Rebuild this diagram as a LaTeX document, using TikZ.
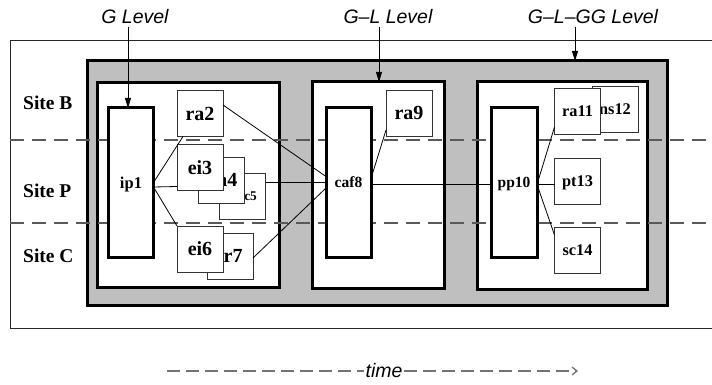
\documentclass[tikz,border=0pt]{standalone}
\usepackage{fontspec}
\setmainfont{Liberation Serif}
\newfontfamily\hvfont{Liberation Sans}
\usetikzlibrary{arrows.meta,calc}
\begin{document}
\begin{tikzpicture}[x=1pt,y=-1pt,
  frame/.style={draw,line width=3pt,fill=white,inner sep=0pt,outer sep=0pt},
  tallbox/.style={draw,line width=3pt,fill=white,inner sep=0pt,outer sep=0pt,minimum width=45pt,minimum height=149pt,text depth=0pt,font=\fontsize{16.5}{19}\selectfont\bfseries},
  smallbox/.style={draw=black!80,line width=0.9pt,fill=white,inner sep=0pt,outer sep=0pt,minimum width=46pt,minimum height=46pt,text depth=0pt,font=\fontsize{20}{24}\selectfont\bfseries},
  midbox/.style={smallbox,font=\fontsize{16.3}{19}\selectfont\bfseries},
  lvl/.style={font=\hvfont\itshape\fontsize{19.5}{22}\selectfont,inner sep=1pt,text depth=0pt},
  site/.style={font=\fontsize{19.5}{22}\selectfont\bfseries,anchor=base west,inner sep=0pt},
  conn/.style={line width=0.8pt},
  lvlarrow/.style={line width=0.8pt,-{Triangle[length=10pt,width=6pt]}},
  sitedash/.style={draw=black!65,line width=1.2pt,dash pattern=on 14pt off 8pt},
  timedash/.style={draw=black!55,line width=1.3pt,dash pattern=on 13pt off 6pt}
]
\useasboundingbox (0,0) rectangle (712,385);
% outer frame (open to the right)
\draw[line width=0.8pt,draw=black!85] (712,40) -- (10,40) -- (10,328) -- (712,328);
% gray group and level frames
\node[frame,fill=black!25,minimum width=580pt,minimum height=244pt] (grp) at (377,183) {};
\node[frame,minimum width=182pt,minimum height=204pt] (b1) at (188,185) {};
\node[frame,minimum width=132pt,minimum height=206pt] (b2) at (378,185) {};
\node[frame,minimum width=170pt,minimum height=207pt] (b3) at (562,185.5) {};
% site separators
\coordinate (dl1) at (10,140); \coordinate (dr1) at (712,140);
\coordinate (dl2) at (10,223); \coordinate (dr2) at (712,223);
\draw[sitedash] (dl1) -- (dr1);
\draw[sitedash] (dl2) -- (dr2);
% site labels
\node[site] (sb) at (23,110) {Site B};
\node[site] (sp) at (23,197) {Site P};
\node[site] (sc) at (23,262) {Site C};
% tall boxes
\node[tallbox] (ip1) at (131,182.5) {ip1};
\node[tallbox,font=\fontsize{15.5}{18}\selectfont\bfseries] (caf8) at (348.5,182.5) {caf8};
\node[tallbox,minimum width=46pt,font=\fontsize{15.5}{18}\selectfont\bfseries] (pp10) at (514,182.5) {pp10};
% small boxes, G level
\node[smallbox] (ra2) at (200,113.5) {ra2};
\node[smallbox,font=\fontsize{13.3}{16}\selectfont\bfseries] (sc5) at (242.5,196.5) {\hspace*{11pt}sc5};
\node[smallbox] (ra4) at (221.5,180) {\hspace*{3pt}ra4};
\node[smallbox] (ei3) at (200,167.5) {ei3};
\node[smallbox] (pr7) at (230,256) {\hspace*{-5pt}pr7};
\node[smallbox] (ei6) at (200,249) {ei6};
% G-L level
\node[smallbox] (ra9) at (409,113) {ra9};
% G-L-GG level
\node[midbox] (ns12) at (615,109.5) {ns12};
\node[midbox] (ra11) at (577.5,111) {ra11};
\node[midbox] (pt13) at (577.5,181) {pt13};
\node[midbox] (sc14) at (577.5,250) {sc14};
% connectors
\draw[conn] (ip1.east) -- ($(ra2.south west)+(6,0)$);
\draw[conn] ($(ip1.east)+(0,4.5)$) -- ($(ei3.south west)+(0,-4)$);
\draw[conn] ($(ip1.east)+(0,4.5)$) -- (ei6.north west);
\draw[conn] ($(ra2.east)+(0,-8.5)$) -- ($(caf8.west)+(0,-6)$);
\draw[conn] ($(sc5.east)+(0,-14.5)$) -- ($(caf8.west)+(0,-0.5)$);
\draw[conn] ($(pr7.east)+(0,2)$) -- ($(caf8.west)+(0,5.5)$);
\draw[conn] ($(caf8.east)+(0,-4)$) -- ($(ra9.south west)+(0,-6)$);
\draw[conn] ($(caf8.east)+(0,1.5)$) -- ($(pp10.west)+(0,1.5)$);
\draw[conn] ($(pp10.east)+(0,2)$) -- ($(ra11.south west)+(0,-7)$);
\draw[conn] ($(pp10.east)+(0,2)$) -- ($(pt13.west)+(0,3.5)$);
\draw[conn] ($(pp10.east)+(0,2)$) -- ($(sc14.north west)+(0,8)$);
% level labels
\node[lvl] (gl) at (135,16) {G Level};
\node[lvl] (gll) at (388,16) {G–L Level};
\node[lvl] (glgg) at (593,16) {G–L–GG Level};
\coordinate (ga) at (128,27);
\coordinate (gla) at (379,27);
\coordinate (glgga) at (575,27);
\draw[lvlarrow] (ga) -- (ga |- ip1.north);
\draw[lvlarrow] (gla) -- (gla |- b2.north);
\draw[lvlarrow] (glgga) -- (glgga |- grp.north);
% time axis
\node[lvl] (tm) at (384,370) {time};
\coordinate (t0) at (167,371);
\coordinate (t1) at (578,371);
\draw[timedash] (t0) -- (tm.west |- t0);
\draw[timedash,-{Straight Barb[length=5pt,width=8pt]}] (tm.east |- t0) -- (t1);
\end{tikzpicture}
\end{document}
